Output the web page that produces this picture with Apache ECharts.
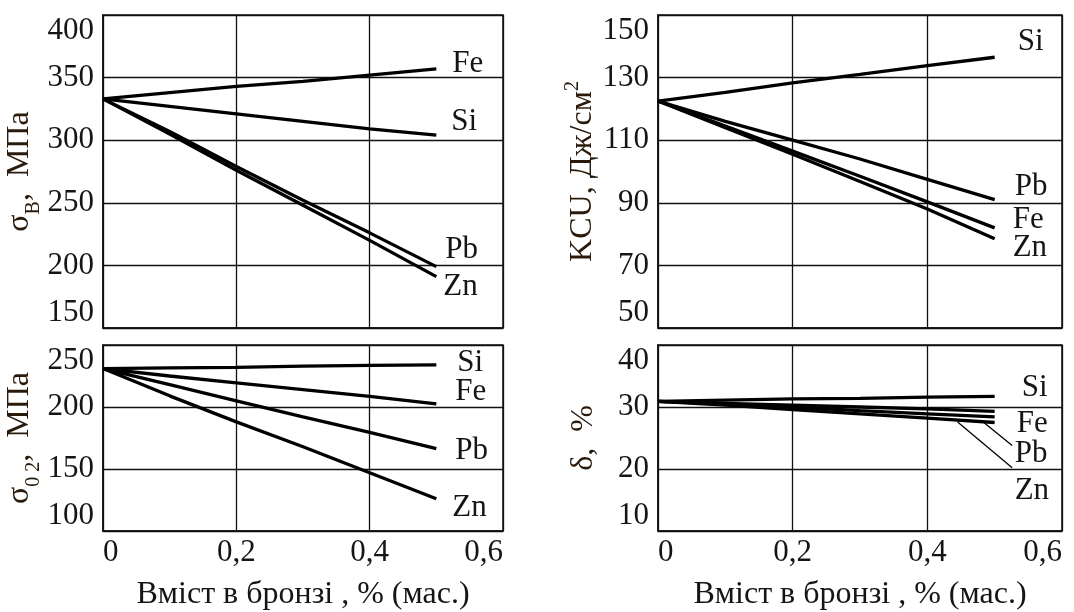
<!DOCTYPE html>
<html>
<head>
<meta charset="utf-8">
<script src="https://cdn.jsdelivr.net/npm/echarts@6/dist/echarts.min.js"></script>
<style>html,body{margin:0;padding:0;background:#fff}#c{width:1074px;height:612px}</style>
</head>
<body>
<div id="c"></div>
<script>
// ---- data ----
const xVals = [0, 0.1, 0.2, 0.3, 0.4, 0.5];
const xTicks = [0, 0.2, 0.4, 0.6];

// sigma_B, MPa (top-left)
const sbFe = [333, 338, 343, 347, 352, 357];
const sbSi = [333, 327, 321, 315, 309, 304];
const sbPb = [333, 307, 279, 252, 226, 199];
const sbZn = [333, 305, 276, 248, 220, 191];

// KCU, J/cm2 (top-right)
const kcuSi = [122.5, 125.3, 128.3, 131, 133.8, 136.5];
const kcuPb = [122.5, 116, 110, 104, 97.5, 91];
const kcuFe = [122.5, 114.5, 106.5, 98.5, 90.3, 82];
const kcuZn = [122.5, 114, 105.5, 96.8, 88, 78.5];

// sigma_0.2, MPa (bottom-left)
const s02Si = [231, 231.5, 232, 233, 233.5, 234];
const s02Fe = [231, 225, 219.5, 214, 208.5, 202.5];
const s02Pb = [231, 218, 205, 192, 179.5, 166.5];
const s02Zn = [231, 209, 188, 168, 147, 126];

// delta, % (bottom-right)
const dSi = [30.9, 31.1, 31.3, 31.4, 31.6, 31.7];
const dFe = [30.9, 30.6, 30.3, 30.0, 29.7, 29.3];
const dPb = [30.9, 30.5, 30.0, 29.4, 28.9, 28.4];
const dZn = [30.9, 30.3, 29.6, 28.9, 28.2, 27.5];

// leader lines (data coords) in delta panel
const leaderPb = [[0.483, 27.6], [0.526, 23.8]];
const leaderZn = [[0.445, 27.6], [0.526, 20.2]];

const xName = 'Вміст в бронзі , % (мас.)';

// ---- build ----
const FONT = 'Liberation Serif';
const TXT = '#151515';
const NAMEC = '#2a1a0c';
const pair = arr => arr.map((v, i) => [xVals[i], v]);
const fmtX = v => (Math.abs(v) < 1e-9 ? '0' : String(+v.toFixed(1)).replace('.', ','));

const grids = [
  {left: 103, top: 15, width: 400, height: 313},
  {left: 658, top: 15, width: 404, height: 313},
  {left: 103, top: 345, width: 400, height: 188},
  {left: 658, top: 345, width: 404, height: 188}
].map(g => Object.assign({show: true, borderColor: '#111', borderWidth: 1.5, containLabel: false}, g));

function xAxis(idx, showLabels) {
  return {
    gridIndex: idx, type: 'value', min: 0, max: 0.6, interval: 0.2,
    axisLine: {show: true, lineStyle: {color: '#111', width: 1.5}},
    axisTick: {show: false},
    splitLine: {show: true, lineStyle: {color: '#111', width: 1.3}},
    axisLabel: {show: showLabels, formatter: fmtX, fontFamily: FONT, fontSize: 31, color: TXT, margin: 6,
      alignMinLabel: 'left', alignMaxLabel: 'right'},
    name: showLabels ? xName : '', nameLocation: 'middle', nameGap: 48,
    nameTextStyle: {fontFamily: FONT, fontSize: 32, color: TXT}
  };
}
const richName = {
  sub: {fontFamily: FONT, fontSize: 20, color: NAMEC, verticalAlign: 'bottom', padding: [0, 0, -8, 0]},
  sup: {fontFamily: FONT, fontSize: 20, color: NAMEC, verticalAlign: 'top', padding: [-4, 0, 0, 0]},
  n: {fontFamily: FONT, fontSize: 32, color: NAMEC}
};
function yAxis(idx, min, max, interval, name, gap) {
  return {
    gridIndex: idx, type: 'value', min: min, max: max, interval: interval,
    axisLine: {show: true, lineStyle: {color: '#111', width: 1.5}},
    axisTick: {show: false},
    splitLine: {show: true, lineStyle: {color: '#111', width: 1.3}},
    axisLabel: {fontFamily: FONT, fontSize: 31, color: TXT, margin: 9,
      verticalAlignMinLabel: 'bottom', verticalAlignMaxLabel: 'top'},
    name: name, nameLocation: 'middle', nameGap: gap, nameRotate: 90,
    nameTextStyle: {fontFamily: FONT, fontSize: 32, color: NAMEC, rich: richName}
  };
}

function line(idx, name, data, off, extra) {
  return Object.assign({
    type: 'line', xAxisIndex: idx, yAxisIndex: idx, name: name,
    data: pair(data), symbol: 'none', smooth: false, silent: true, animation: false,
    lineStyle: {color: '#000', width: 3.3},
    endLabel: {show: true, formatter: name, fontFamily: FONT, fontSize: 31, color: TXT,
      distance: 0, offset: off, align: 'left', verticalAlign: 'middle'}
  }, extra || {});
}

const leaderStyle = {color: '#000', width: 1.3, type: 'solid'};
const option = {
  backgroundColor: '#fff',
  animation: false,
  grid: grids,
  xAxis: [xAxis(0, false), xAxis(1, false), xAxis(2, true), xAxis(3, true)],
  yAxis: [
    yAxis(0, 150, 400, 50, '{n|σ}{sub|В}{n|,  МПа}', 62),
    yAxis(1, 50, 150, 20, '{n|KCU, Дж/см}{sup|2}', 57),
    yAxis(2, 100, 250, 50, '{n|σ}{sub|0 2}{n|,  МПа}', 62),
    yAxis(3, 10, 40, 10, '{n|δ,  %}', 58)
  ],
  series: [
    line(0, 'Fe', sbFe, [16, -5]),
    line(0, 'Si', sbSi, [15, -13]),
    line(0, 'Pb', sbPb, [9, -17]),
    line(0, 'Zn', sbZn, [7, 10]),

    line(1, 'Si', kcuSi, [23, -15]),
    line(1, 'Pb', kcuPb, [20, -13]),
    line(1, 'Fe', kcuFe, [18, -8]),
    line(1, 'Zn', kcuZn, [18, 9]),

    line(2, 'Si', s02Si, [21, -2]),
    line(2, 'Fe', s02Fe, [19, -12]),
    line(2, 'Pb', s02Pb, [19, 2]),
    line(2, 'Zn', s02Zn, [16, 9]),

    line(3, 'Si', dSi, [27, -9]),
    line(3, 'Fe', dFe, [22, 13]),
    line(3, 'Pb', dPb, [20, 37], {
      markLine: {silent: true, symbol: 'none', label: {show: false}, lineStyle: leaderStyle, animation: false,
        data: [
          [{coord: leaderPb[0]}, {coord: leaderPb[1]}],
          [{coord: leaderZn[0]}, {coord: leaderZn[1]}]
        ]}
    }),
    line(3, 'Zn', dZn, [20, 68])
  ]
};
const chart = echarts.init(document.getElementById('c'), null, {renderer: 'canvas'});
chart.setOption(option);
</script>
</body>
</html>
